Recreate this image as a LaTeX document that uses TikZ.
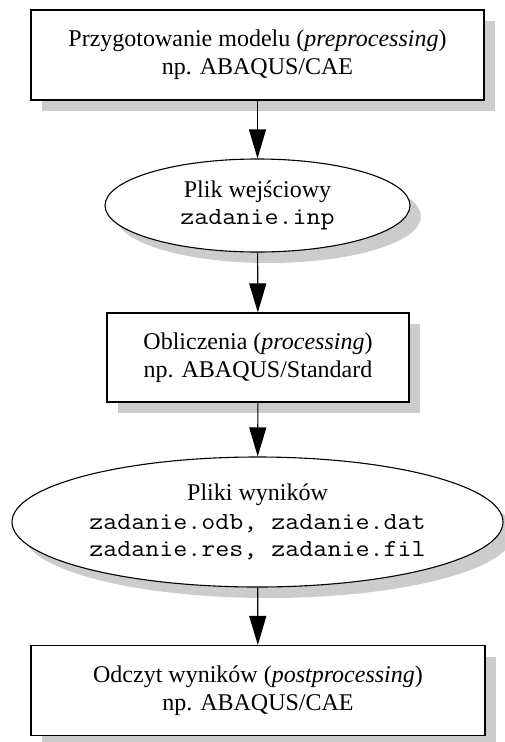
\documentclass[tikz,border=0pt]{standalone}
\usepackage{fontspec}
\setmainfont{Liberation Serif}
\setmonofont{Latin Modern Mono}[FakeStretch=1.11]
\usetikzlibrary{shapes.geometric,shadows,arrows.meta}
\begin{document}
\begin{tikzpicture}[x=1pt,y=-1pt,
  shad/.style={drop shadow={shadow xshift=11pt,shadow yshift=-11pt,fill=black!20,opacity=1}},
  stepbox/.style={draw,line width=1.1pt,fill=white,shad,rectangle,inner sep=0pt,align=center,
    font=\fontsize{24}{28}\selectfont},
  filenode/.style={draw,line width=1.1pt,fill=white,shad,ellipse,inner sep=0pt,align=center,
    font=\fontsize{24}{27}\selectfont},
  conn/.style={line width=1.1pt,-{Triangle[length=29pt,width=17pt]}}]
\useasboundingbox (0,0) rectangle (505,742);
\newcommand{\fn}[1]{{\fontsize{24.5}{27}\ttfamily #1}}
\node[stepbox,minimum width=453pt,minimum height=90pt] (prep) at (257.5,55)
  {Przygotowanie modelu (\textit{preprocessing})\\np. ABAQUS/CAE};
\node[filenode,minimum width=305pt,minimum height=93pt] (inp) at (257.5,205.5)
  {Plik wejściowy\\\fn{zadanie.inp}};
\node[stepbox,minimum width=302pt,minimum height=89pt] (calc) at (258,357.5)
  {Obliczenia (\textit{processing})\\np. ABAQUS/Standard};
\node[filenode,minimum width=491pt,minimum height=130pt] (res) at (257.5,522)
  {Pliki wyników\\[2pt]\fn{zadanie.odb, zadanie.dat}\\\fn{zadanie.res, zadanie.fil}};
\node[stepbox,minimum width=454pt,minimum height=90pt] (post) at (258,690.5)
  {Odczyt wyników (\textit{postprocessing})\\np. ABAQUS/CAE};
\draw[conn] (prep) -- (inp);
\draw[conn] (inp) -- (calc);
\draw[conn] (calc) -- (res);
\draw[conn] (res) -- (post);
\end{tikzpicture}
\end{document}
